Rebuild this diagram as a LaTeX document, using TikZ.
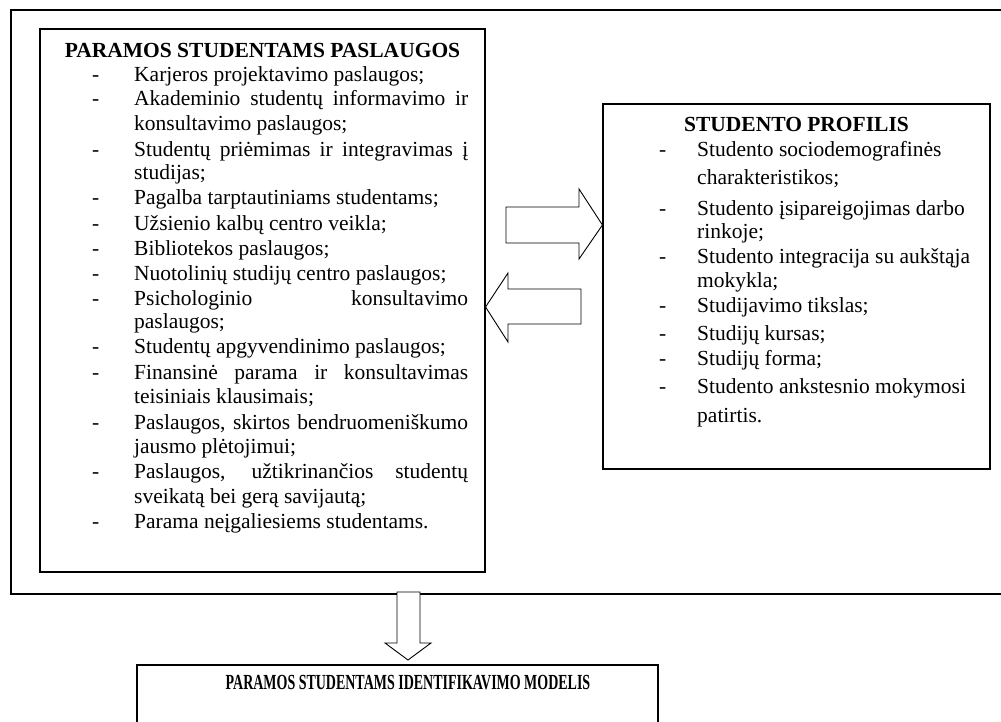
\documentclass[tikz,border=0pt]{standalone}
\usepackage{fontspec}
\setmainfont{Liberation Serif}
\begin{document}
\begin{tikzpicture}[x=1pt,y=-1pt,
  frame/.style={draw=black,line width=1.1pt},
  box/.style={draw=black,line width=1.1pt,inner sep=0pt},
  blockarrow/.style={draw=black,line width=0.9pt,fill=white,line join=miter},
  txt/.style={anchor=base west,inner sep=0pt,font=\fontsize{21.5}{24}\selectfont},
  ttl/.style={anchor=base,inner sep=0pt,font=\fontsize{21.5}{24}\selectfont\bfseries},
  dsh/.style={anchor=base west,inner sep=0pt,font=\fontsize{21.5}{24}\selectfont}]
\useasboundingbox (0,0) rectangle (1001,722);
% outer frame (open on the right)
\draw[frame] (1001,10) -- (11,10) -- (11,594) -- (1001,594);
% bottom box (open at the bottom)
\draw[frame] (137,722) -- (137,665) -- (658,665) -- (658,722);
% boxes
\node[box,minimum width=445pt,minimum height=543pt] (svc) at (262.5,300.5) {};
\node[box,minimum width=387pt,minimum height=365pt] (prof) at (796.5,286.5) {};
% block arrows
\draw[blockarrow] (506,207) -- (579,207) -- (579,189) -- (prof.west |- 0,225) -- (579,259) -- (579,243) -- (506,243) -- cycle;
\draw[blockarrow] (581,289) -- (508,289) -- (508,273) -- (svc.east |- 0,307) -- (508,342) -- (508,324) -- (581,324) -- cycle;
\coordinate (dtip) at (408,660);
\draw[blockarrow] (397,592) -- (420,592) -- (420,643) -- (431,643) -- (dtip) -- (385,643) -- (397,643) -- cycle;
% left box text
\node[ttl] (t1) at (262.5,58) {PARAMOS STUDENTAMS PASLAUGOS};
\foreach \y/\n in {82/1,106/2,157/4,205/6,230/7,255/8,280/9,305/10,353/12,379/13,429/15,478/17,528/19}
  \node[dsh] (d\n) at (92,\y) {-};
\node[txt] (a1) at (134,82) {Karjeros projektavimo paslaugos;};
\node[txt] (a2) at (134,106) {\makebox[334pt][s]{Akademinio studentų informavimo ir}};
\node[txt] (a3) at (134,131) {konsultavimo paslaugos;};
\node[txt] (a4) at (134,157) {\makebox[334pt][s]{Studentų priėmimas ir integravimas į}};
\node[txt] (a5) at (134,180) {studijas;};
\node[txt] (a6) at (134,205) {Pagalba tarptautiniams studentams;};
\node[txt] (a7) at (134,230) {Užsienio kalbų centro veikla;};
\node[txt] (a8) at (134,255) {Bibliotekos paslaugos;};
\node[txt] (a9) at (134,280) {Nuotolinių studijų centro paslaugos;};
\node[txt] (a10) at (134,305) {\makebox[334pt][s]{Psichologinio\hfil konsultavimo}};
\node[txt] (a11) at (134,328) {paslaugos;};
\node[txt] (a12) at (134,353) {Studentų apgyvendinimo paslaugos;};
\node[txt] (a13) at (134,379) {\makebox[334pt][s]{Finansinė parama ir konsultavimas}};
\node[txt] (a14) at (134,403) {teisiniais klausimais;};
\node[txt] (a15) at (134,429) {\makebox[334pt][s]{Paslaugos, skirtos bendruomeniškumo}};
\node[txt] (a16) at (134,453) {jausmo plėtojimui;};
\node[txt] (a17) at (134,478) {\makebox[334pt][s]{Paslaugos, užtikrinančios studentų}};
\node[txt] (a18) at (134,503) {sveikatą bei gerą savijautą;};
\node[txt] (a19) at (134,528) {Parama neįgaliesiems studentams.};
% right box text
\node[ttl] (t2) at (796.5,132) {STUDENTO PROFILIS};
\foreach \y/\n in {157/1,215/3,263/5,312/7,340/8,365/9,393/10}
  \node[dsh] (e\n) at (659,\y) {-};
\node[txt] (b1) at (697,157) {Studento sociodemografinės};
\node[txt] (b2) at (697,185) {charakteristikos;};
\node[txt] (b3) at (697,215) {Studento įsipareigojimas darbo};
\node[txt] (b4) at (697,238) {rinkoje;};
\node[txt] (b5) at (697,263) {Studento integracija su aukštąja};
\node[txt] (b6) at (697,287) {mokykla;};
\node[txt] (b7) at (697,312) {Studijavimo tikslas;};
\node[txt] (b8) at (697,340) {Studijų kursas;};
\node[txt] (b9) at (697,365) {Studijų forma;};
\node[txt] (b10) at (697,393) {Studento ankstesnio mokymosi};
\node[txt] (b11) at (697,422) {patirtis.};
% bottom title
\node[ttl] (t3) at (408,689) {\scalebox{0.65}[1]{PARAMOS STUDENTAMS IDENTIFIKAVIMO MODELIS}};
\end{tikzpicture}
\end{document}
